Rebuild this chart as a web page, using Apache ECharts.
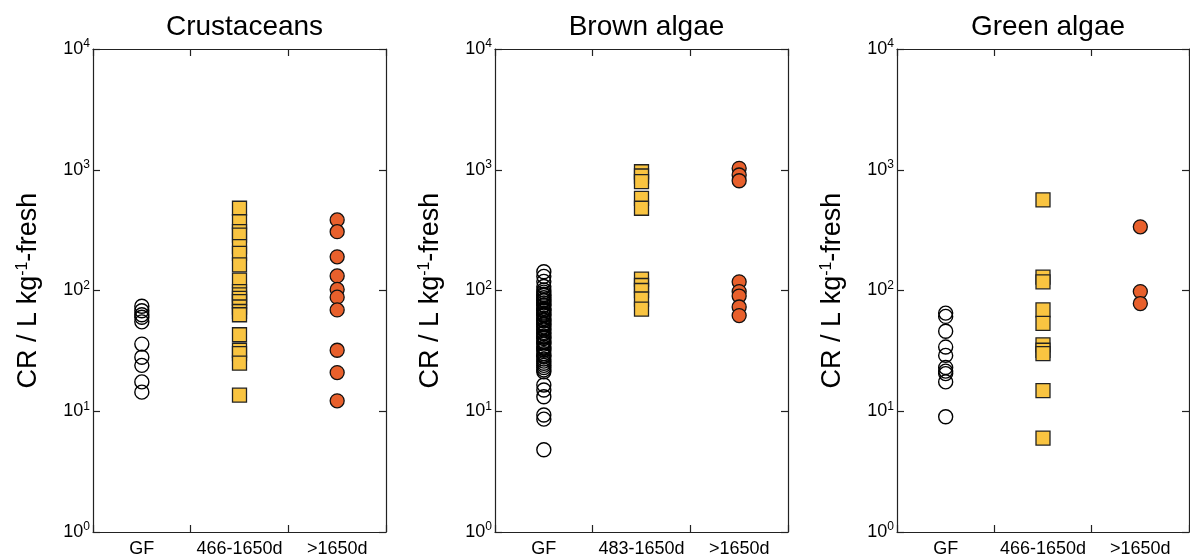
<!DOCTYPE html>
<html>
<head>
<meta charset="UTF-8">
<title>CR scatter</title>
<script src="https://cdn.jsdelivr.net/npm/echarts@6/dist/echarts.min.js"></script>
<style>
  html, body { margin: 0; padding: 0; background: #fff; }
  #chart { width: 1190px; height: 558px; }
</style>
</head>
<body>
<div id="chart"></div>
<script>
// categories per panel
var titles = ['Crustaceans', 'Brown algae', 'Green algae'];
var catsCrust = ['GF', '466-1650d', '>1650d'];
var catsBrown = ['GF', '483-1650d', '>1650d'];
var catsGreen = ['GF', '466-1650d', '>1650d'];
var yTicks = [1, 10, 100, 1000, 10000];

// values (L/kg-fresh)
var crustGF = [74, 68, 63, 60, 55, 36, 28, 24, 17.5, 14.4];
var crustMid = [480, 371, 307, 288, 231, 203, 163, 122, 98, 92, 86, 81, 73, 67, 63, 43, 32, 30, 25, 13.6];
var crustLate = [384, 307, 190, 132, 102, 88, 69, 32, 20.9, 12.2];

var brownGF = [143, 131, 119, 108, 101, 97, 93, 91, 87, 84, 82, 79, 76, 75, 71, 69, 68, 65, 63, 62,
               59, 57, 56, 53, 52, 50, 48, 47, 45, 44, 42, 41, 40, 38, 37, 36, 34, 33, 32, 30,
               29, 28.5, 27, 26, 25, 24, 23, 22, 21.2, 16.5, 15, 13.2, 9.3, 8.6, 4.8];
var brownMid = [963, 888, 796, 580, 480, 124, 110, 100, 85, 70];
var brownLate = [1028, 905, 811, 118, 98, 90, 73, 62];

var greenGF = [65, 61, 46, 34, 29, 23, 21.5, 20.5, 17.5, 9];
var greenMid = [562, 129, 118, 69, 53.5, 35.5, 32, 30, 14.8, 6];
var greenLate = [337, 98, 78];

var panels = [
  { cats: catsCrust, gf: crustGF, mid: crustMid, late: crustLate, left: 93, width: 293 },
  { cats: catsBrown, gf: brownGF, mid: brownMid, late: brownLate, left: 495, width: 293 },
  { cats: catsGreen, gf: greenGF, mid: greenMid, late: greenLate, left: 897, width: 292 }
];

var FONT = '"Liberation Sans", Arial, sans-serif';
var tickStyle = { show: true, inside: true, length: 7, lineStyle: { color: '#222', width: 1.2 } };
var axLine = { show: true, lineStyle: { color: '#222', width: 1.2 } };

var option = {
  animation: false,
  backgroundColor: '#fff',
  title: [], grid: [], xAxis: [], yAxis: [], series: []
};

panels.forEach(function (p, i) {
  option.title.push({
    text: titles[i],
    left: p.left + p.width / 2,
    textAlign: 'center',
    top: 8,
    textStyle: { fontFamily: FONT, fontSize: 28, fontWeight: 'normal', color: '#000' }
  });
  option.grid.push({ left: p.left, width: p.width, top: 49, height: 483, show: false });

  // bottom and top category axes
  option.xAxis.push({
    type: 'category', gridIndex: i, data: p.cats, position: 'bottom',
    axisLine: axLine, axisTick: tickStyle, splitLine: { show: false },
    axisLabel: { fontFamily: FONT, fontSize: 18, color: '#000', margin: 8, interval: 0, hideOverlap: false }
  });
  option.xAxis.push({
    type: 'category', gridIndex: i, data: p.cats, position: 'top',
    axisLine: axLine, axisTick: tickStyle, axisLabel: { show: false }, splitLine: { show: false }
  });

  // left and right log axes
  option.yAxis.push({
    type: 'log', logBase: 10, gridIndex: i, min: 1, max: 10000, position: 'left',
    axisLine: axLine, axisTick: tickStyle, splitLine: { show: false }, minorTick: { show: false },
    name: 'CR / L kg{s|-1}-fresh', nameLocation: 'middle', nameGap: 50, nameRotate: 90,
    nameTextStyle: {
      fontFamily: FONT, fontSize: 27, color: '#000',
      rich: { s: { fontFamily: FONT, fontSize: 16, verticalAlign: 'top', lineHeight: 28, color: '#000' } }
    },
    axisLabel: {
      margin: 3, color: '#000',
      formatter: function (v) { return '{b|10}{s|' + Math.round(Math.log10(v)) + '}'; },
      rich: {
        b: { fontFamily: FONT, fontSize: 18, lineHeight: 22, color: '#000' },
        s: { fontFamily: FONT, fontSize: 12, verticalAlign: 'top', lineHeight: 22, color: '#000' }
      }
    }
  });
  option.yAxis.push({
    type: 'log', logBase: 10, gridIndex: i, min: 1, max: 10000, position: 'right',
    axisLine: axLine, axisTick: tickStyle, splitLine: { show: false }, minorTick: { show: false },
    axisLabel: { show: false }
  });

  var xi = i * 2, yi = i * 2;
  function pts(cat, vals) { return vals.map(function (v) { return [cat, v]; }); }
  option.series.push({
    type: 'scatter', xAxisIndex: xi, yAxisIndex: yi, silent: true,
    symbol: 'circle', symbolSize: 14, data: pts(p.cats[0], p.gf),
    itemStyle: { color: 'rgba(0,0,0,0)', borderColor: '#000', borderWidth: 1.4, opacity: 1 }
  });
  option.series.push({
    type: 'scatter', xAxisIndex: xi, yAxisIndex: yi, silent: true,
    symbol: 'rect', symbolSize: 14, data: pts(p.cats[1], p.mid),
    itemStyle: { color: '#F9C441', borderColor: '#222', borderWidth: 1.3, opacity: 1 }
  });
  option.series.push({
    type: 'scatter', xAxisIndex: xi, yAxisIndex: yi, silent: true,
    symbol: 'circle', symbolSize: 14, data: pts(p.cats[2], p.late),
    itemStyle: { color: '#E8602C', borderColor: '#111', borderWidth: 1.3, opacity: 1 }
  });
});

var chart = echarts.init(document.getElementById('chart'));
chart.setOption(option);
</script>
</body>
</html>
